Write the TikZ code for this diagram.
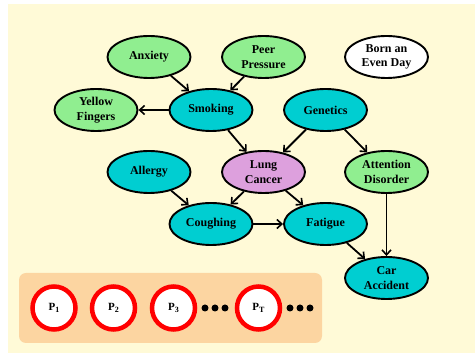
\documentclass[tikz,border=0pt]{standalone}
\usepackage{fontspec}
\setmainfont{Liberation Serif}
\usetikzlibrary{shapes.geometric,arrows.meta}
\definecolor{cream}{RGB}{255,250,215}
\definecolor{peach}{RGB}{252,213,161}
\definecolor{lgreen}{RGB}{144,238,144}
\definecolor{dturq}{RGB}{0,206,209}
\definecolor{plumc}{RGB}{221,160,221}
\tikzset{
  var/.style={ellipse, draw=black, line width=1.9pt, minimum width=83pt, minimum height=42pt,
    inner sep=0pt, align=center, font=\fontsize{12}{14.5}\selectfont\bfseries},
  obs/.style={var, fill=lgreen},
  hid/.style={var, fill=dturq},
  qry/.style={var, fill=plumc},
  free/.style={var, fill=white},
  link/.style={line width=1.8pt, -{Straight Barb[length=5pt,width=9pt,line width=1.6pt]}},
  part/.style={circle, draw=red, line width=4.5pt, fill=white, minimum size=43pt, inner sep=0pt,
    font=\fontsize{11}{13}\selectfont\bfseries},
  dot/.style={circle, fill=black, minimum size=7pt, inner sep=0pt}
}
\newcommand{\psub}[1]{P\raisebox{-0.4ex}{\fontsize{8}{9}\selectfont #1}}
\begin{document}
\begin{tikzpicture}[x=1pt,y=-1pt]
  \useasboundingbox (0,0) rectangle (475,355);
  \fill[cream] (8,4) rectangle (475,353);
  \fill[peach, rounded corners=7pt] (19,273) rectangle (322,343);

  % network variables
  \node[obs]  (anx) at (149,57)  {Anxiety};
  \node[obs]  (peer) at (263.5,57) {Peer\\Pressure};
  \node[free] (born) at (386.5,57) {Born an\\Even Day};
  \node[obs]  (yel) at (96,110)  {Yellow\\Fingers};
  \node[hid]  (smk) at (211,110) {Smoking};
  \node[hid]  (gen) at (325.5,110) {Genetics};
  \node[hid]  (all) at (149,172) {Allergy};
  \node[qry]  (lung) at (263.5,172) {Lung\\Cancer};
  \node[obs]  (att) at (386.5,172) {Attention\\Disorder};
  \node[hid]  (cou) at (211,224) {Coughing};
  \node[hid]  (fat) at (325.5,224) {Fatigue};
  \node[hid]  (car) at (386.5,278) {Car\\Accident};

  % dependencies
  \draw[link] (anx) -- (smk);
  \draw[link] (peer) -- (smk);
  \draw[link] (smk) -- (yel);
  \draw[link] (smk) -- (lung);
  \draw[link] (gen) -- (lung);
  \draw[link] (gen) -- (att);
  \draw[link] (all) -- (cou);
  \draw[link] (lung) -- (cou);
  \draw[link] (lung) -- (fat);
  \draw[link] (cou) -- (fat);
  \draw[link] (fat) -- (car);
  \draw[link] (att) -- (car);

  % particles
  \node[part] (p1) at (54,308) {\psub{1}};
  \node[part] (p2) at (113.5,308) {\psub{2}};
  \node[part] (p3) at (173.5,308) {\psub{3}};
  \node[part] (pt) at (258.5,308) {\psub{T}};
  \node[dot] (d1) at (205,308) {};
  \node[dot] (d2) at (215,308) {};
  \node[dot] (d3) at (225,308) {};
  \node[dot] (d4) at (290,308) {};
  \node[dot] (d5) at (300,308) {};
  \node[dot] (d6) at (310,308) {};
\end{tikzpicture}
\end{document}
